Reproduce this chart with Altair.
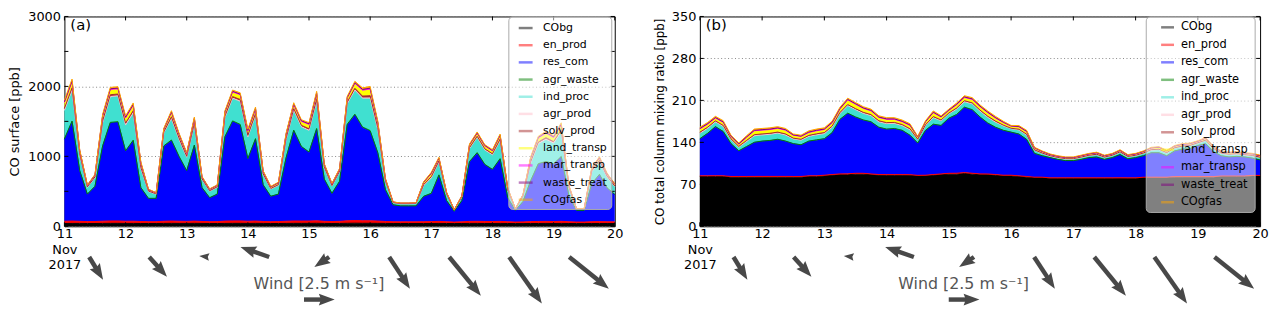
import math
import numpy as np
import pandas as pd
import altair as alt

# ---------------- categories / ticks ----------------
days = [11, 12, 13, 14, 15, 16, 17, 18, 19, 20]
times = [11 + i * 0.125 for i in range(73)]  # 3-hourly, 11 Nov 00h -> 20 Nov 00h
series = ["CObg", "en_prod", "res_com", "agr_waste", "ind_proc", "agr_prod",
          "solv_prod", "land_transp", "mar_transp", "waste_treat", "COgfas"]
colors = ["#000000", "#ff0000", "#0000ff", "#008000", "#40e0d0", "#ffc0cb",
          "#a52a2a", "#ffff00", "#ff00ff", "#800080", "#ffa500"]
yticks_a = [0, 500, 1000, 1500, 2000, 2500, 3000]
yticks_b = [0, 70, 140, 210, 280, 350]

# ---------------- panel (a): CO surface [ppb] ----------------
CObg_a = [40,41,41,40,40,41,42,42,41,41, 40,40,40,41,42,41,41,42,41,40,
          40,41,42,42,41,42,41,40,40,41, 42,42,42,43,41,40,41,43,44,43,
          43,42,41,40,40,40,40,40,40,41, 40,39,40,41,41,40,40,41,40,39,
          39,40,40,41,40,41,40,39,39,40, 40,40,40]
en_prod_a = [32,34,30,27,28,32,34,34,31,32, 28,26,26,31,33,31,29,32,28,26,
             27,33,35,35,31,33,28,26,27,31, 34,33,33,36,30,28,30,36,38,37,
             36,33,28,25,24,24,24,26,27,29, 25,22,24,29,30,29,28,29,25,22,
             24,27,29,29,28,30,25,22,22,26, 27,25,24]
res_com_a = [1170,1420,720,390,500,1070,1400,1410,1000,1150,
             480,330,330,1070,1150,920,720,1080,480,340,
             390,1200,1420,1370,890,1170,520,360,390,900,
             1290,1060,980,1310,600,400,570,1370,1510,1330,
             1280,970,450,240,225,225,225,360,400,660,
             300,152,300,850,975,810,740,890,340,165,
             290,580,820,850,820,920,370,165,165,540,
             670,480,390]
agr_waste_a = [9,10,6,4,5,8,10,10,8,9, 5,4,4,8,9,8,6,8,5,4,
               4,9,10,10,8,9,5,4,4,8, 9,8,8,10,6,4,5,10,11,10,
               10,8,5,3,3,3,3,4,5,6, 4,2,4,7,8,7,7,8,4,2,
               3,6,7,7,7,8,4,2,2,5, 6,5,4]
ind_proc_a = [396,432,216,94,122,324,360,360,360,382,
              266,94,58,180,302,238,187,288,115,90,
              94,266,317,324,302,324,144,101,122,252,
              281,274,302,382,158,101,130,288,338,403,
              454,324,115,29,29,29,32,151,216,180,
              86,17,50,180,212,202,202,252,101,18,
              72,245,281,310,288,346,108,18,18,166,
              180,151,108]
agr_prod_a = [11,12,6,3,3,9,10,10,10,11, 7,3,2,5,8,7,5,8,3,3,
              3,7,9,9,8,9,4,3,3,7, 8,8,8,11,4,3,4,8,9,11,
              13,9,3,1,1,1,1,4,6,5, 2,0,1,5,6,6,6,7,3,0,
              2,7,8,9,8,10,3,0,0,5, 5,4,3]
solv_prod_a = [28,30,15,7,9,23,25,25,25,27, 19,7,4,13,21,17,13,20,8,6,
               7,19,22,23,21,23,10,7,9,18, 20,19,21,27,11,7,9,20,24,28,
               32,23,8,2,2,2,2,11,15,13, 6,1,4,13,15,14,14,18,7,1,
               5,17,20,22,20,24,8,1,1,12, 13,11,8]
land_transp_a = [77,84,42,18,24,63,70,70,70,74, 52,18,11,35,59,46,36,56,22,18,
                 18,52,62,63,59,63,28,20,24,49, 55,53,59,74,31,20,25,56,66,78,
                 88,63,22,6,6,6,6,29,42,35, 17,3,10,35,41,39,39,49,20,4,
                 14,48,55,60,56,67,21,4,4,32, 35,29,21]
mar_transp_a = [6,6,3,1,2,5,5,5,5,5, 4,1,1,3,4,3,3,4,2,1,
                1,4,4,5,4,5,2,1,2,4, 4,4,4,5,2,1,2,4,5,6,
                6,5,2,0,0,0,1,2,3,3, 1,0,1,3,3,3,3,4,1,0,
                1,3,4,4,4,5,2,0,0,2, 3,2,2]
waste_treat_a = [11,12,6,3,3,9,10,10,10,11, 7,3,2,5,8,7,5,8,3,3,
                 3,7,9,9,8,9,4,3,3,7, 8,8,8,11,4,3,4,8,9,11,
                 13,9,3,1,1,1,1,4,6,5, 2,0,1,5,6,6,6,7,3,0,
                 2,7,8,9,8,10,3,0,0,5, 5,4,3]
COgfas_a = [22,24,12,5,7,18,20,20,20,21, 15,5,3,10,17,13,10,16,6,5,
            5,15,18,18,17,18,8,6,7,14, 16,15,17,21,9,6,7,16,19,22,
            25,18,6,2,2,2,2,8,12,10, 5,1,3,10,12,11,11,14,6,1,
            4,14,16,17,16,19,6,1,1,9, 10,8,6]

# ---------------- panel (b): CO total column mixing ratio [ppb] ----------------
CObg_b = [83,83,83,83,82,82,82,82,82,82, 82,82,82,82,83,83,84,85,86,86,
          87,87,86,85,85,85,85,85,84,84, 85,86,87,87,88,87,86,86,85,84,
          84,83,82,81,81,80,80,80,80,80, 80,80,80,80,80,80,80,81,81,81,
          81,82,82,82,82,82,82,83,83,83, 83,84,84]
en_prod_b = [1.2,1.2,1.3,1.2,1.1,1.1,1.1,1.2,1.2,1.2, 1.2,1.2,1.1,1.1,1.2,1.2,1.2,1.3,1.4,1.5,
             1.4,1.4,1.3,1.3,1.2,1.2,1.2,1.1,1.0,1.2, 1.3,1.3,1.4,1.5,1.6,1.5,1.4,1.3,1.3,1.2,
             1.2,1.1,1.1,0.9,0.9,0.8,0.8,0.8,0.8,0.8, 0.8,0.8,0.8,0.8,0.9,0.8,0.8,0.9,0.9,0.9,
             0.9,0.9,1.0,1.0,1.0,1.0,0.9,0.9,0.9,0.9, 0.9,0.9,0.9]
res_com_b = [61.5,70.5,81.5,73.5,54.5,42.5,49.5,56.5,58.5,59.5,
             61.5,58.5,54.5,52.5,57.5,59.5,60.5,69.5,90.5,100.5,
             93.5,88.5,86.5,78.5,75.5,76.5,73.5,65.5,53.5,74.5,
             83.5,80.5,91.5,97.5,108.5,105.5,94.5,84.5,78.5,74.5,
             71.5,69.5,61.5,39.5,35.5,33.5,30.5,28.5,28.5,30.5,
             33.5,34.5,30.5,33.5,38.5,31.5,33.5,35.5,40.5,40.5,
             35.5,42.5,45.5,46.5,51.5,54.5,41.5,33.5,31.5,32.5,
             31.5,28.5,25.5]
agr_waste_b = [0.5,0.5,0.6,0.5,0.4,0.4,0.5,0.5,0.5,0.5, 0.5,0.5,0.4,0.4,0.5,0.5,0.5,0.5,0.6,0.7,
               0.6,0.6,0.6,0.5,0.5,0.5,0.5,0.5,0.4,0.5, 0.6,0.5,0.5,0.6,0.7,0.6,0.6,0.5,0.5,0.5,
               0.4,0.4,0.4,0.3,0.3,0.3,0.3,0.3,0.3,0.3, 0.3,0.3,0.3,0.3,0.3,0.3,0.3,0.3,0.3,0.3,
               0.3,0.3,0.3,0.3,0.3,0.3,0.3,0.3,0.3,0.3, 0.3,0.3,0.3]
ind_proc_b = [8.3,7.7,7.1,7.7,6.1,5.5,7.7,10.2,9.5,9.5, 9.5,9.5,7.3,7.3,7.1,7.7,7.7,8.3,8.9,12.0,
              11.4,10.2,9.5,8.3,8.3,7.7,7.1,8.3,5.5,7.3, 10.2,7.3,6.7,8.3,8.3,8.9,8.9,8.9,7.7,6.7,
              5.5,6.1,6.7,4.9,3.6,2.4,2.4,2.4,2.4,3.0, 3.0,3.6,3.0,3.0,3.6,3.0,3.0,3.6,4.2,4.9,
              4.2,4.2,4.2,4.2,3.6,4.9,4.2,3.6,3.6,3.6, 3.0,3.6,3.6]
agr_prod_b = [0.8,0.8,0.8,0.8,0.6,0.6,0.8,0.8,0.8,0.8, 0.8,0.8,0.6,0.6,0.8,0.8,0.8,0.8,0.8,0.8,
              0.8,0.8,0.8,0.8,0.8,0.8,0.8,0.8,0.3,0.6, 0.8,0.6,0.6,0.8,0.8,0.8,0.8,0.8,0.8,0.6,
              0.3,0.6,0.6,0.3,0.3,0.3,0.3,0.3,0.3,0.3, 0.3,0.3,0.3,0.3,0.3,0.3,0.3,0.3,0.3,0.3,
              0.3,0.3,0.3,0.3,0.3,0.3,0.3,0.3,0.3,0.3, 0.3,0.3,0.3]
solv_prod_b = [1.6,1.6,1.6,1.6,1.2,1.2,1.6,1.6,1.6,1.6, 1.6,1.6,1.2,1.2,1.6,1.6,1.6,1.6,1.6,1.6,
               1.6,1.6,1.6,1.6,1.6,1.6,1.6,1.6,0.6,1.2, 1.6,1.2,1.2,1.6,1.6,1.6,1.6,1.6,1.6,1.2,
               0.6,1.2,1.2,0.6,0.6,0.6,0.6,0.6,0.6,0.6, 0.6,0.6,0.6,0.6,0.6,0.6,0.6,0.6,0.6,0.6,
               0.6,0.6,0.6,0.6,0.6,0.6,0.6,0.6,0.6,0.6, 0.6,0.6,0.6]
land_transp_b = [5.1,4.7,4.3,4.7,3.7,3.3,4.7,6.2,5.9,5.9, 5.9,5.9,4.5,4.5,4.3,4.7,4.7,5.1,5.5,7.4,
                 7.0,6.2,5.9,5.1,5.1,4.7,4.3,5.1,3.4,4.5, 6.2,4.5,4.1,5.1,5.1,5.5,5.5,5.5,4.7,4.1,
                 3.4,3.7,4.1,3.0,2.2,1.5,1.5,1.5,1.5,1.8, 1.8,2.2,1.8,1.8,2.2,1.8,1.8,2.2,2.6,3.0,
                 2.6,2.6,2.6,2.6,2.2,3.0,2.6,2.2,2.2,2.2, 1.8,2.2,2.2]
mar_transp_b = [0.4,0.4,0.4,0.4,0.3,0.3,0.4,0.4,0.4,0.4, 0.4,0.4,0.3,0.3,0.4,0.4,0.4,0.4,0.4,0.4,
                0.4,0.4,0.4,0.4,0.4,0.4,0.4,0.4,0.2,0.3, 0.4,0.3,0.3,0.4,0.4,0.4,0.4,0.4,0.4,0.3,
                0.2,0.3,0.3,0.2,0.2,0.2,0.2,0.2,0.2,0.2, 0.2,0.2,0.2,0.2,0.2,0.2,0.2,0.2,0.2,0.2,
                0.2,0.2,0.2,0.2,0.2,0.2,0.2,0.2,0.2,0.2, 0.2,0.2,0.2]
waste_treat_b = [0.8,0.8,0.8,0.8,0.6,0.6,0.8,0.8,0.8,0.8, 0.8,0.8,0.6,0.6,0.8,0.8,0.8,0.8,0.8,0.8,
                 0.8,0.8,0.8,0.8,0.8,0.8,0.8,0.8,0.3,0.6, 0.8,0.6,0.6,0.8,0.8,0.8,0.8,0.8,0.8,0.6,
                 0.3,0.6,0.6,0.3,0.3,0.3,0.3,0.3,0.3,0.3, 0.3,0.3,0.3,0.3,0.3,0.3,0.3,0.3,0.3,0.3,
                 0.3,0.3,0.3,0.3,0.3,0.3,0.3,0.3,0.3,0.3, 0.3,0.3,0.3]
COgfas_b = [2.0,2.0,2.0,2.0,1.5,1.5,2.0,2.0,2.0,2.0, 2.0,2.0,1.5,1.5,2.0,2.0,2.0,2.0,2.0,2.0,
            2.0,2.0,2.0,2.0,2.0,2.0,2.0,2.0,0.8,1.5, 2.0,1.5,1.5,2.0,2.0,2.0,2.0,2.0,2.0,1.5,
            0.8,1.5,1.5,0.8,0.8,0.8,0.8,0.8,0.8,0.8, 0.8,0.8,0.8,0.8,0.8,0.8,0.8,0.8,0.8,0.8,
            0.8,0.8,0.8,0.8,0.8,0.8,0.8,0.8,0.8,0.8, 0.8,0.8,0.8]

# ---------------- daily wind (m/s) ----------------
wind_days = [11.5, 12.5, 13.5, 14.5, 15.5, 16.5, 17.5, 18.5, 19.5]
wind_u = [1.13, 1.45, -0.81, -2.34, -1.21, 1.69, 2.58, 2.66, 3.23]
wind_v = [-1.85, -1.61, 0.08, 0.81, -0.81, -2.58, -3.15, -3.79, -2.58]
ref_speed = 2.5
wind_label = "Wind [2.5 m s\u207b\u00b9]"

vals_a = dict(zip(series, [CObg_a, en_prod_a, res_com_a, agr_waste_a, ind_proc_a, agr_prod_a,
                           solv_prod_a, land_transp_a, mar_transp_a, waste_treat_a, COgfas_a]))
vals_b = dict(zip(series, [CObg_b, en_prod_b, res_com_b, agr_waste_b, ind_proc_b, agr_prod_b,
                           solv_prod_b, land_transp_b, mar_transp_b, waste_treat_b, COgfas_b]))
for d in (vals_a, vals_b):
    for k, v in d.items():
        assert len(v) == len(times), (k, len(v))

# ---------------- layout constants ----------------
H = 212
PXU = 12.4          # px per m/s for wind arrows
ARROW = "#484848"
HEAD = "M0,-1L0.75,1L0,0.72L-0.75,1Z"
TAIL_PY = 243       # tail row, px from plot top
REF_T, REF_Y = 15.08, -3.47
LAB_T, LAB_Y = 14.24, -2.58


def stack_df(vals):
    rows = []
    base = np.zeros(len(times))
    for k, name in enumerate(series):
        top = base + np.asarray(vals[name], dtype=float)
        for i, t in enumerate(times):
            rows.append({"t": t, "series": name, "ord": k, "y0": base[i], "y1": top[i]})
        base = top
    return pd.DataFrame(rows)


def wind_frames(px_per_day):
    kx = PXU / px_per_day
    shafts, heads = [], []
    items = [(t, 0.0, u, v) for t, u, v in zip(wind_days, wind_u, wind_v)]
    items.append((REF_T, REF_Y, ref_speed, 0.0))
    for t0, y0, u, v in items:
        sp = math.hypot(u, v)
        lpx = sp * PXU
        h = min(16.0, lpx)
        ex, ey = u / sp, v / sp
        dh = (lpx - h / 2) / PXU
        heads.append({"t": t0 + ex * dh * kx, "wy": y0 + ey * dh,
                      "ang": math.degrees(math.atan2(u, v)) % 360, "sz": h * h})
        if lpx > h:
            ds = (lpx - 0.7 * h) / PXU
            shafts.append({"t": t0, "wy": y0, "t2": t0 + ex * ds * kx, "wy2": y0 + ey * ds})
    return pd.DataFrame(shafts), pd.DataFrame(heads)


def legend_layer(box, sym_x, text_x, rows, fs):
    leg_df = pd.DataFrame({"series": series})
    ly = alt.Scale(type="point", domain=series, range=rows, padding=0)
    bg = alt.Chart(pd.DataFrame({"k": [0]})).mark_rect(
        fill="white", fillOpacity=0.5, stroke="#aaaaaa", strokeWidth=1, cornerRadius=4).encode(
        x=alt.value(box[0]), x2=alt.value(box[1]), y=alt.value(box[2]), y2=alt.value(box[3]))
    sym = alt.Chart(leg_df).mark_rule(strokeWidth=2.5, opacity=0.5).encode(
        y=alt.Y("series:N", scale=ly, axis=None),
        x=alt.value(sym_x[0]), x2=alt.value(sym_x[1]),
        color=alt.Color("series:N", scale=alt.Scale(domain=series, range=colors), legend=None))
    txt = alt.Chart(leg_df).mark_text(align="left", baseline="middle", fontSize=fs,
                                      color="black").encode(
        y=alt.Y("series:N", scale=ly, axis=None), x=alt.value(text_x), text="series:N")
    return alt.layer(bg, sym, txt)


def panel(vals, ymax, yticks, ytitle, ytitle_size, title_pad, width, tag, leg, arrow_range):
    df = stack_df(vals)
    xs = alt.Scale(domain=[11, 20], nice=False, zero=False)
    ys = alt.Scale(domain=[0, ymax], nice=False, zero=False)
    xaxis = alt.Axis(values=days, format="d",
                     labelExpr="datum.value == 11 ? ['11', 'Nov', '2017'] : datum.label",
                     labelFlush=False, labelOverlap=False, ticks=False, domain=False, grid=False,
                     labelPadding=1, labelFontSize=13, labelColor="black", labelLineHeight=16,
                     title=None)
    yaxis = alt.Axis(values=yticks, format="d", ticks=False, domain=False, grid=True,
                     gridDash=[1, 2.5], gridColor="#888888", gridWidth=1, labelFontSize=13,
                     labelColor="black", labelPadding=4, title=ytitle, titleFontSize=ytitle_size,
                     titleFontWeight="normal", titleColor="black", titlePadding=title_pad)
    area = alt.Chart(df).mark_area(interpolate="linear").encode(
        x=alt.X("t:Q", scale=xs, axis=xaxis),
        y=alt.Y("y1:Q", scale=ys, axis=yaxis),
        y2="y0:Q",
        fill=alt.Fill("series:N", scale=alt.Scale(domain=series, range=colors), legend=None),
    )
    line = alt.Chart(df).mark_line(strokeWidth=1).encode(
        x=alt.X("t:Q", scale=xs),
        y=alt.Y("y1:Q", scale=ys),
        stroke=alt.Stroke("series:N", scale=alt.Scale(domain=series, range=colors), legend=None),
    )
    ytk = pd.DataFrame({"v": yticks})
    xtk = pd.DataFrame({"t": days})
    tick_l = alt.Chart(ytk).mark_rule(color="black").encode(
        y=alt.Y("v:Q", scale=ys), x=alt.value(0), x2=alt.value(4))
    tick_r = alt.Chart(ytk).mark_rule(color="black").encode(
        y=alt.Y("v:Q", scale=ys), x=alt.value(width - 4), x2=alt.value(width))
    tick_b = alt.Chart(xtk).mark_rule(color="black").encode(
        x=alt.X("t:Q", scale=xs), y=alt.value(H - 4), y2=alt.value(H))
    tick_t = alt.Chart(xtk).mark_rule(color="black").encode(
        x=alt.X("t:Q", scale=xs), y=alt.value(0), y2=alt.value(4))
    tag_mark = alt.Chart(pd.DataFrame({"label": [tag]})).mark_text(
        align="left", baseline="top", fontSize=15, color="black").encode(
        x=alt.value(6), y=alt.value(2), text="label:N")
    data_layer = alt.layer(area, line, tick_l, tick_r, tick_b, tick_t, tag_mark)

    px_per_day = (arrow_range[1] - arrow_range[0]) / 9.0
    sh_df, hd_df = wind_frames(px_per_day)
    axs = alt.Scale(domain=[11, 20], range=arrow_range, nice=False, zero=False)
    ays = alt.Scale(domain=[-10, 10], range=[TAIL_PY + 10 * PXU, TAIL_PY - 10 * PXU],
                    nice=False, zero=False)
    shaft = alt.Chart(sh_df).mark_rule(color=ARROW, strokeWidth=4.5, strokeCap="butt").encode(
        x=alt.X("t:Q", scale=axs, axis=None), x2="t2:Q",
        y=alt.Y("wy:Q", scale=ays, axis=None), y2="wy2:Q")
    head = alt.Chart(hd_df).mark_point(shape=HEAD, filled=True, color=ARROW, opacity=1,
                                       strokeWidth=0).encode(
        x=alt.X("t:Q", scale=axs, axis=None),
        y=alt.Y("wy:Q", scale=ays, axis=None),
        angle=alt.Angle("ang:Q", scale=None),
        size=alt.Size("sz:Q", scale=None))
    lab = alt.Chart(pd.DataFrame({"t": [LAB_T], "wy": [LAB_Y], "label": [wind_label]})).mark_text(
        align="left", baseline="alphabetic", fontSize=16, color="#555555").encode(
        x=alt.X("t:Q", scale=axs, axis=None),
        y=alt.Y("wy:Q", scale=ays, axis=None),
        text="label:N")
    wind_layer = alt.layer(shaft, head, lab)

    return alt.layer(data_layer, wind_layer, leg).resolve_scale(
        x="independent", y="independent").properties(width=width, height=H)


leg_a = legend_layer([449, 553, 0.5, 195], [459, 473], 483.5, [11.7, 185.2], 11)
leg_b = legend_layer([451, 561, 0.5, 198], [466, 479], 486, [11.0, 187.7], 11.5)

pa = panel(vals_a, 3000, yticks_a, "CO surface [ppb]", 13, 6, 556, "(a)", leg_a, [-5.3, 540.3])
pb = panel(vals_b, 350, yticks_b, "CO total column mixing ratio [ppb]", 12, 5, 566, "(b)", leg_b,
           [3.6, 550.3])

chart = alt.hconcat(pa, pb, spacing=86, bounds="flush").resolve_scale(
    x="independent", y="independent", fill="independent", stroke="independent",
    color="independent"
).properties(
    padding={"left": 0, "top": 0, "right": 0, "bottom": 0}
).configure(font="DejaVu Sans").configure_view(stroke="black", strokeWidth=1)

chart.save("out.html", embed_options={"renderer": "svg", "actions": False})
